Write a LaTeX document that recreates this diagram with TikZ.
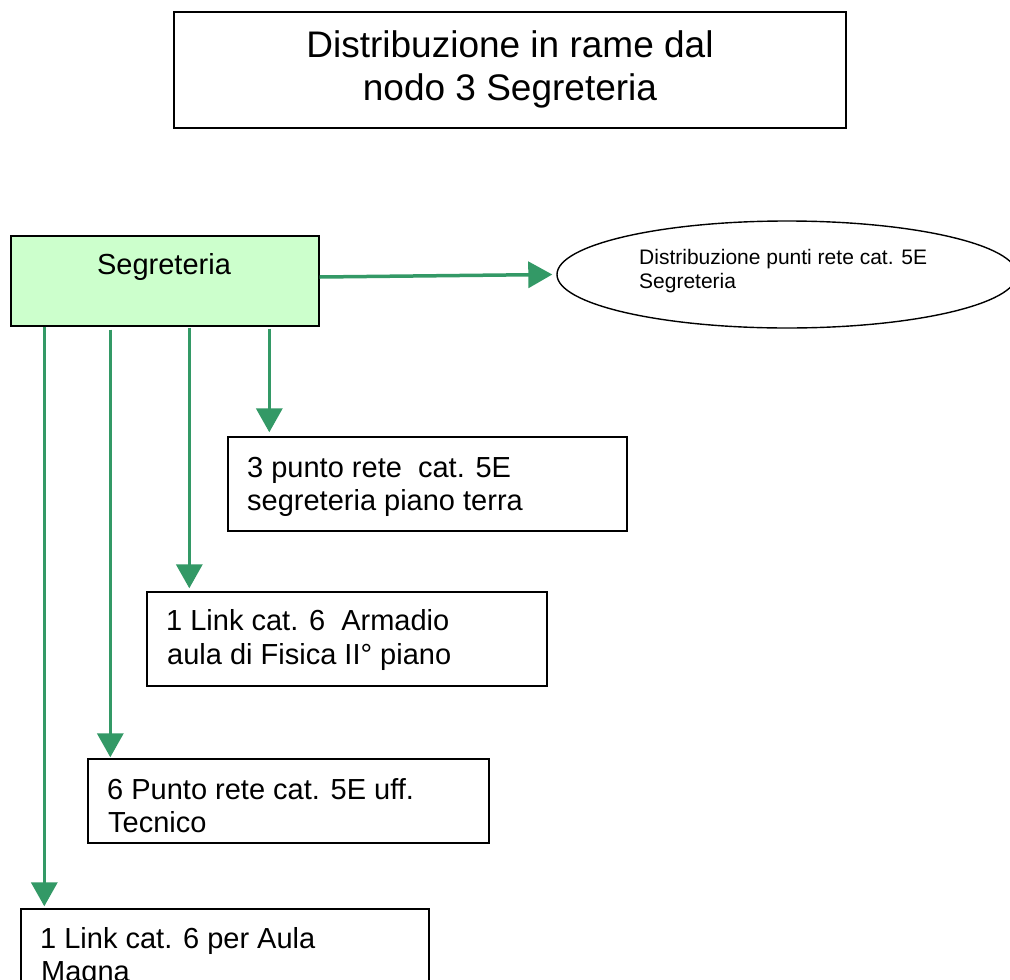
\documentclass[tikz,border=0pt]{standalone}
\usepackage{fontspec}
\setmainfont{Liberation Sans}
\usetikzlibrary{arrows.meta,shapes.geometric}
\definecolor{arrowgreen}{HTML}{339966}
\definecolor{boxgreen}{HTML}{CCFFCC}
\begin{document}
\begin{tikzpicture}[x=1pt,y=-1pt,
  box/.style={draw=black,line width=1.4pt,rectangle,inner sep=0pt},
  conn/.style={draw=arrowgreen,line width=3.5pt,-{Triangle[length=24pt,width=26pt]}},
  boxtext/.style={anchor=base west,inner sep=0pt,font=\fontsize{29}{33}\selectfont},
  titletext/.style={anchor=base,inner sep=0pt,font=\fontsize{37}{44}\selectfont},
  elltext/.style={anchor=base west,inner sep=0pt,font=\fontsize{21}{24}\selectfont}]
\useasboundingbox (0,0) rectangle (1010,980);
\clip (0,0) rectangle (1010,980);
\fill[white] (0,0) rectangle (1010,980);

% title
\node[box,minimum width=672pt,minimum height=116pt] (title) at (510,70) {};
\node[titletext] (titleA) at (510,57) {Distribuzione in rame dal};
\node[titletext] (titleB) at (510,100) {nodo 3 Segreteria};

% Segreteria
\node[box,fill=boxgreen,minimum width=308pt,minimum height=90pt] (seg) at (165,281) {};
\node[boxtext,anchor=base] (segt) at (164,274) {Segreteria};

% ellipse
\node[draw=black,line width=1.4pt,ellipse,minimum width=460pt,minimum height=107pt,inner sep=0pt] (ell) at (787,274.5) {};
\node[elltext] (ellA) at (639,264) {Distribuzione punti rete cat. 5E};
\node[elltext] (ellB) at (639,288) {Segreteria};

% boxes
\node[box,minimum width=399pt,minimum height=94pt] (b2) at (427.5,484) {};
\node[boxtext] (b2a) at (247,477) {3 punto rete\ \ cat. 5E};
\node[boxtext] (b2b) at (247,510) {segreteria piano terra};

\node[box,minimum width=400pt,minimum height=94pt] (b3) at (347,639) {};
\node[boxtext] (b3a) at (166,630) {1 Link cat. 6\ \ Armadio};
\node[boxtext] (b3b) at (167,664) {aula di Fisica II° piano};

\node[box,minimum width=401pt,minimum height=84pt] (b4) at (288.5,801) {};
\node[boxtext] (b4a) at (107,799) {6 Punto rete cat. 5E uff.};
\node[boxtext] (b4b) at (108,832) {Tecnico};

\node[box,minimum width=408pt,minimum height=94pt] (b5) at (225,956) {};
\node[boxtext] (b5a) at (40,948) {1 Link cat. 6 per Aula};
\node[boxtext] (b5b) at (41,981) {Magna};

% connectors
\draw[conn] ([yshift=4pt]seg.east) -- ([xshift=-4pt]ell.west);
\draw[conn] ([xshift=24pt]b5.north west |- seg.south) -- ([xshift=24pt,yshift=2pt]b5.north west);
\draw[conn] ([xshift=23pt,yshift=-3pt]b4.north west |- seg.south) -- ([xshift=23pt,yshift=1pt]b4.north west);
\draw[conn] ([xshift=43pt,yshift=-1pt]b3.north west |- seg.south) -- ([xshift=43pt,yshift=3pt]b3.north west);
\draw[conn] ([xshift=42pt,yshift=-2pt]b2.north west |- seg.south) -- ([xshift=42pt,yshift=4pt]b2.north west);
\end{tikzpicture}
\end{document}
